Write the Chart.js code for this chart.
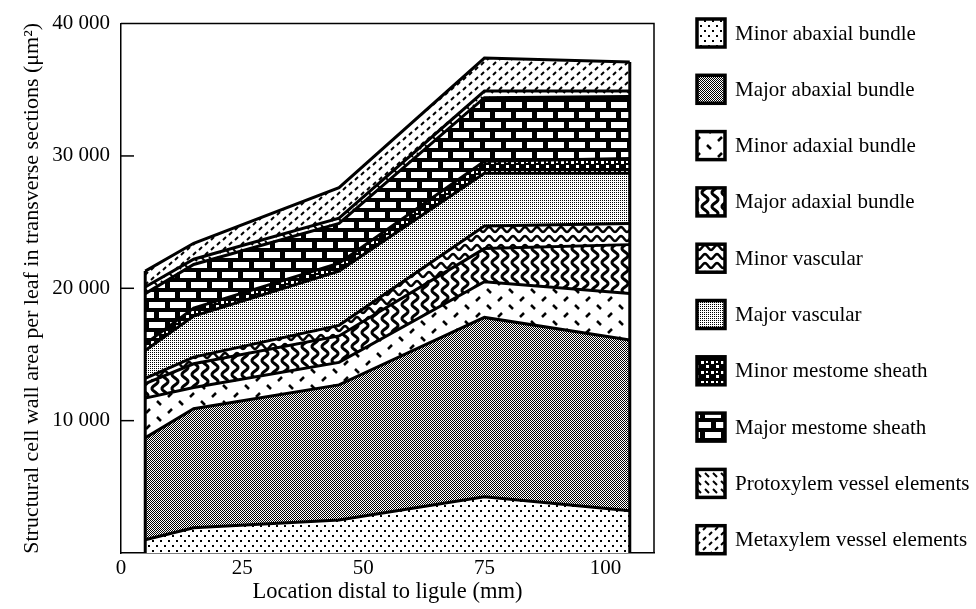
<!DOCTYPE html>
<html><head><meta charset="utf-8">
<script src="https://cdn.jsdelivr.net/npm/chart.js@4"></script>
<style>html,body{margin:0;padding:0;background:#fff;}#wrap{width:976px;height:609px;position:relative;}</style>
</head><body><div id="wrap"><canvas id="c" width="976" height="609"></canvas></div>
<script>
// ---- data (layer thickness, µm², stacked bottom to top) ----
const locations = [5, 15, 45, 75, 105];
const seriesNames = ['Minor abaxial bundle','Major abaxial bundle','Minor adaxial bundle','Major adaxial bundle','Minor vascular','Major vascular','Minor mestome sheath','Major mestome sheath','Protoxylem vessel elements','Metaxylem vessel elements'];
const minorAbaxial   = [1000, 1900, 2500, 4250, 3200];
const majorAbaxial   = [7700, 9000, 10200, 13550, 12900];
const minorAdaxial   = [3000, 1600, 1700, 2700, 3500];
const majorAdaxial   = [1100, 1800, 2000, 2500, 3700];
const minorVascular  = [400, 500, 800, 1700, 1600];
const majorVascular  = [2100, 3100, 4100, 4000, 3800];
const minorMestome   = [500, 600, 600, 900, 1100];
const majorMestome   = [3800, 3300, 3000, 4800, 4700];
const protoxylem     = [500, 400, 400, 500, 400];
const metaxylem      = [1200, 1200, 2300, 2500, 2200];
const xTicks = [0, 25, 50, 75, 100];
const yTicks = [0, 10000, 20000, 30000, 40000];
const allSeries = [minorAbaxial, majorAbaxial, minorAdaxial, majorAdaxial, minorVascular, majorVascular, minorMestome, majorMestome, protoxylem, metaxylem];

const canvas = document.getElementById('c');
const ctx = canvas.getContext('2d');

function wrapLine(g, w, h, x1, y1, x2, y2) {
  for (const dx of [-w, 0, w]) for (const dy of [-h, 0, h]) {
    g.beginPath(); g.moveTo(x1 + dx, y1 + dy); g.lineTo(x2 + dx, y2 + dy); g.stroke();
  }
}
function makePattern(w, h, bg, fn) {
  const c = document.createElement('canvas'); c.width = w; c.height = h;
  const g = c.getContext('2d'); g.fillStyle = bg; g.fillRect(0, 0, w, h);
  g.fillStyle = '#000'; g.strokeStyle = '#000'; fn(g, w, h);
  return ctx.createPattern(c, 'repeat');
}
const patterns = [
  makePattern(8, 10, '#fff', g => { g.fillRect(0, 0, 2, 2); g.fillRect(4, 5, 2, 2); }),
  makePattern(2, 2, '#fff', g => { g.fillRect(0, 0, 1, 1); g.fillRect(1, 1, 1, 1); }),
  makePattern(22, 16, '#fff', (g, w, h) => { g.lineWidth = 2.5; wrapLine(g, w, h, 3, 1, 7, 5); wrapLine(g, w, h, 14, 13, 18, 9); }),
  makePattern(10, 14, '#fff', (g, w, h) => { g.lineWidth = 3; g.beginPath(); for (let y = -1; y <= h + 1; y++) { const x = 5 + 3 * Math.sin(2 * Math.PI * y / h); if (y === -1) g.moveTo(x, y); else g.lineTo(x, y); } g.stroke(); }),
  makePattern(12, 9, '#fff', (g, w, h) => { g.lineWidth = 2.5; g.beginPath(); for (let x = -1; x <= w + 1; x++) { const y = 4.5 + 2.5 * Math.sin(2 * Math.PI * x / w); if (x === -1) g.moveTo(x, y); else g.lineTo(x, y); } g.stroke(); }),
  makePattern(2, 2, '#fff', g => { g.fillRect(0, 0, 1, 1); }),
  makePattern(10, 10, '#000', g => { g.fillStyle = '#fff'; g.fillRect(1, 1, 3, 3); g.fillRect(6, 5, 3, 3); g.fillRect(6, 1, 2, 2); }),
  makePattern(21, 20, '#000', g => { g.fillStyle = '#fff'; g.fillRect(2, 2, 16, 6); g.fillRect(12, 12, 16, 6); g.fillRect(-9, 12, 16, 6); }),
  makePattern(8, 8, '#fff', (g, w, h) => { g.lineWidth = 2; wrapLine(g, w, h, 1, 1, 5, 5); }),
  makePattern(12, 10, '#fff', (g, w, h) => { g.lineWidth = 2; wrapLine(g, w, h, 1, 5, 4, 2); wrapLine(g, w, h, 7, 10, 10, 7); })
];

Chart.defaults.font.family = "'Liberation Serif', 'Times New Roman', serif";
Chart.defaults.font.size = 21;
Chart.defaults.color = '#000';

const fmt = v => String(v).replace(/\B(?=(\d{3})+(?!\d))/g, ' ');

const framePlugin = {
  id: 'frame',
  afterDatasetsDraw(chart) {
    const { ctx: c, scales: { x, y } } = chart;
    const n = locations.length;
    const totalAt = j => allSeries.reduce((s, arr) => s + arr[j], 0);
    c.save(); c.strokeStyle = '#000'; c.lineWidth = 3;
    [0, n - 1].forEach(j => {
      const px = x.getPixelForValue(locations[j]);
      c.beginPath(); c.moveTo(px, y.getPixelForValue(0)); c.lineTo(px, y.getPixelForValue(totalAt(j))); c.stroke();
    });
    c.restore();
  },
  afterDraw(chart) {
    const { ctx: c, chartArea: a, scales: { y } } = chart;
    c.save(); c.strokeStyle = '#000'; c.lineWidth = 1.5;
    c.beginPath(); c.moveTo(a.left, a.top); c.lineTo(a.right, a.top); c.lineTo(a.right, a.bottom); c.stroke();
    yTicks.forEach(v => { if (v > 0 && v < 40000) { const py = y.getPixelForValue(v); c.beginPath(); c.moveTo(a.left, py); c.lineTo(a.left + 13, py); c.stroke(); } });
    c.font = "21px 'Liberation Serif'"; c.textBaseline = 'middle';
    chart.data.datasets.forEach((ds, i) => {
      const cy = 33 + i * 56.3;
      const bx = 697, bs = 28;
      c.fillStyle = ds.backgroundColor; c.fillRect(bx, cy - bs / 2, bs, bs);
      c.lineWidth = 3.5; c.strokeStyle = '#000'; c.strokeRect(bx, cy - bs / 2, bs, bs);
      c.fillStyle = '#000'; c.fillText(ds.label, 735, cy + 1);
    });
    c.restore();
  }
};

new Chart(ctx, {
  type: 'line',
  data: {
    datasets: seriesNames.map((name, i) => ({
      label: name,
      data: locations.map((lx, j) => ({ x: lx, y: allSeries[i][j] })),
      fill: i === 0 ? 'origin' : '-1',
      backgroundColor: patterns[i],
      borderColor: '#000', borderWidth: 3, pointRadius: 0, tension: 0
    }))
  },
  options: {
    responsive: false, animation: false, devicePixelRatio: 1,
    layout: { padding: { top: 22, right: 322, left: 0, bottom: 0 } },
    plugins: { legend: { display: false }, tooltip: { enabled: false } },
    scales: {
      x: {
        type: 'linear', min: 0, max: 110,
        afterBuildTicks: s => { s.ticks = xTicks.map(v => ({ value: v })); },
        afterFit: s => { s.height = 56; },
        grid: { display: false, drawTicks: false },
        border: { display: true, color: '#000', width: 1.5 },
        ticks: { padding: 3, maxRotation: 0, autoSkip: false, font: { size: 21 } },
        title: { display: true, text: 'Location distal to ligule (mm)', font: { size: 22.5 }, padding: { top: 0, bottom: 3 } }
      },
      y: {
        stacked: true, min: 0, max: 40000,
        afterBuildTicks: s => { s.ticks = yTicks.map(v => ({ value: v })); },
        afterFit: s => { s.width = 121; },
        grid: { display: false, drawTicks: false },
        border: { display: true, color: '#000', width: 1.5 },
        ticks: { padding: 11, callback: v => v === 0 ? '' : fmt(v), font: { size: 21 } },
        title: { display: true, text: 'Structural cell wall area per leaf in transverse sections (μm²)', font: { size: 22 }, padding: { top: 19, bottom: 0 } }
      }
    }
  },
  plugins: [framePlugin]
});
</script></body></html>
